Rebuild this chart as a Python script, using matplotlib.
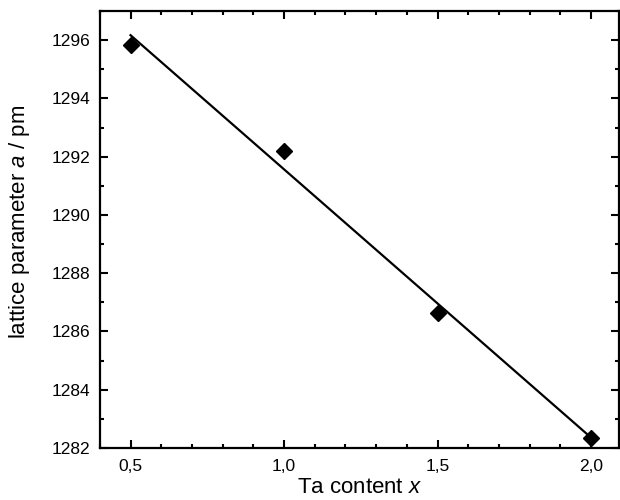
import matplotlib.pyplot as plt
import numpy as np
from matplotlib.ticker import MultipleLocator, FuncFormatter

# Ta content vs. lattice parameter
ta_content = [0.5, 1.0, 1.5, 2.0]
lattice_a = [1295.85, 1292.2, 1286.65, 1282.35]

plt.rcParams['font.family'] = ['Liberation Sans', 'DejaVu Sans']
plt.rcParams['mathtext.fontset'] = 'custom'
plt.rcParams['mathtext.rm'] = 'Liberation Sans'
plt.rcParams['mathtext.it'] = 'Liberation Sans:italic'

fig = plt.figure(figsize=(6.2, 5), dpi=100)
ax = fig.add_axes([0.161, 0.104, 0.837, 0.874])

# linear fit
slope, icpt = np.polyfit(ta_content, lattice_a, 1)
xfit = np.array([ta_content[0], ta_content[-1]])
ax.plot(xfit, slope * xfit + icpt, color="black", linewidth=1.6)
ax.plot(ta_content, lattice_a, linestyle="none", marker="D", markersize=7.8,
        color="black")

ax.set_xlim(0.4, 2.09)
ax.set_ylim(1282, 1297)
ax.xaxis.set_major_locator(MultipleLocator(0.5))
ax.xaxis.set_minor_locator(MultipleLocator(0.1))
ax.yaxis.set_major_locator(MultipleLocator(2))
ax.yaxis.set_minor_locator(MultipleLocator(1))
ax.xaxis.set_major_formatter(FuncFormatter(lambda v, p: f"{v:.1f}".replace(".", ",")))
ax.yaxis.set_major_formatter(FuncFormatter(lambda v, p: f"{v:.0f}"))

ax.tick_params(which="both", direction="in", top=True, right=True,
               labelsize=12.5, width=1.5)
ax.tick_params(which="major", length=6, pad=7)
ax.tick_params(axis="x", which="major", pad=8)
ax.tick_params(which="minor", length=3)
for s in ax.spines.values():
    s.set_linewidth(1.6)

ax.set_xlabel("Ta content $\\mathit{x}$", fontsize=16, labelpad=2)
ax.set_ylabel("lattice parameter $\\mathit{a}$ / pm", fontsize=16)
ax.yaxis.set_label_coords(-0.130, 0.517)

plt.savefig("out.png", dpi=100)
